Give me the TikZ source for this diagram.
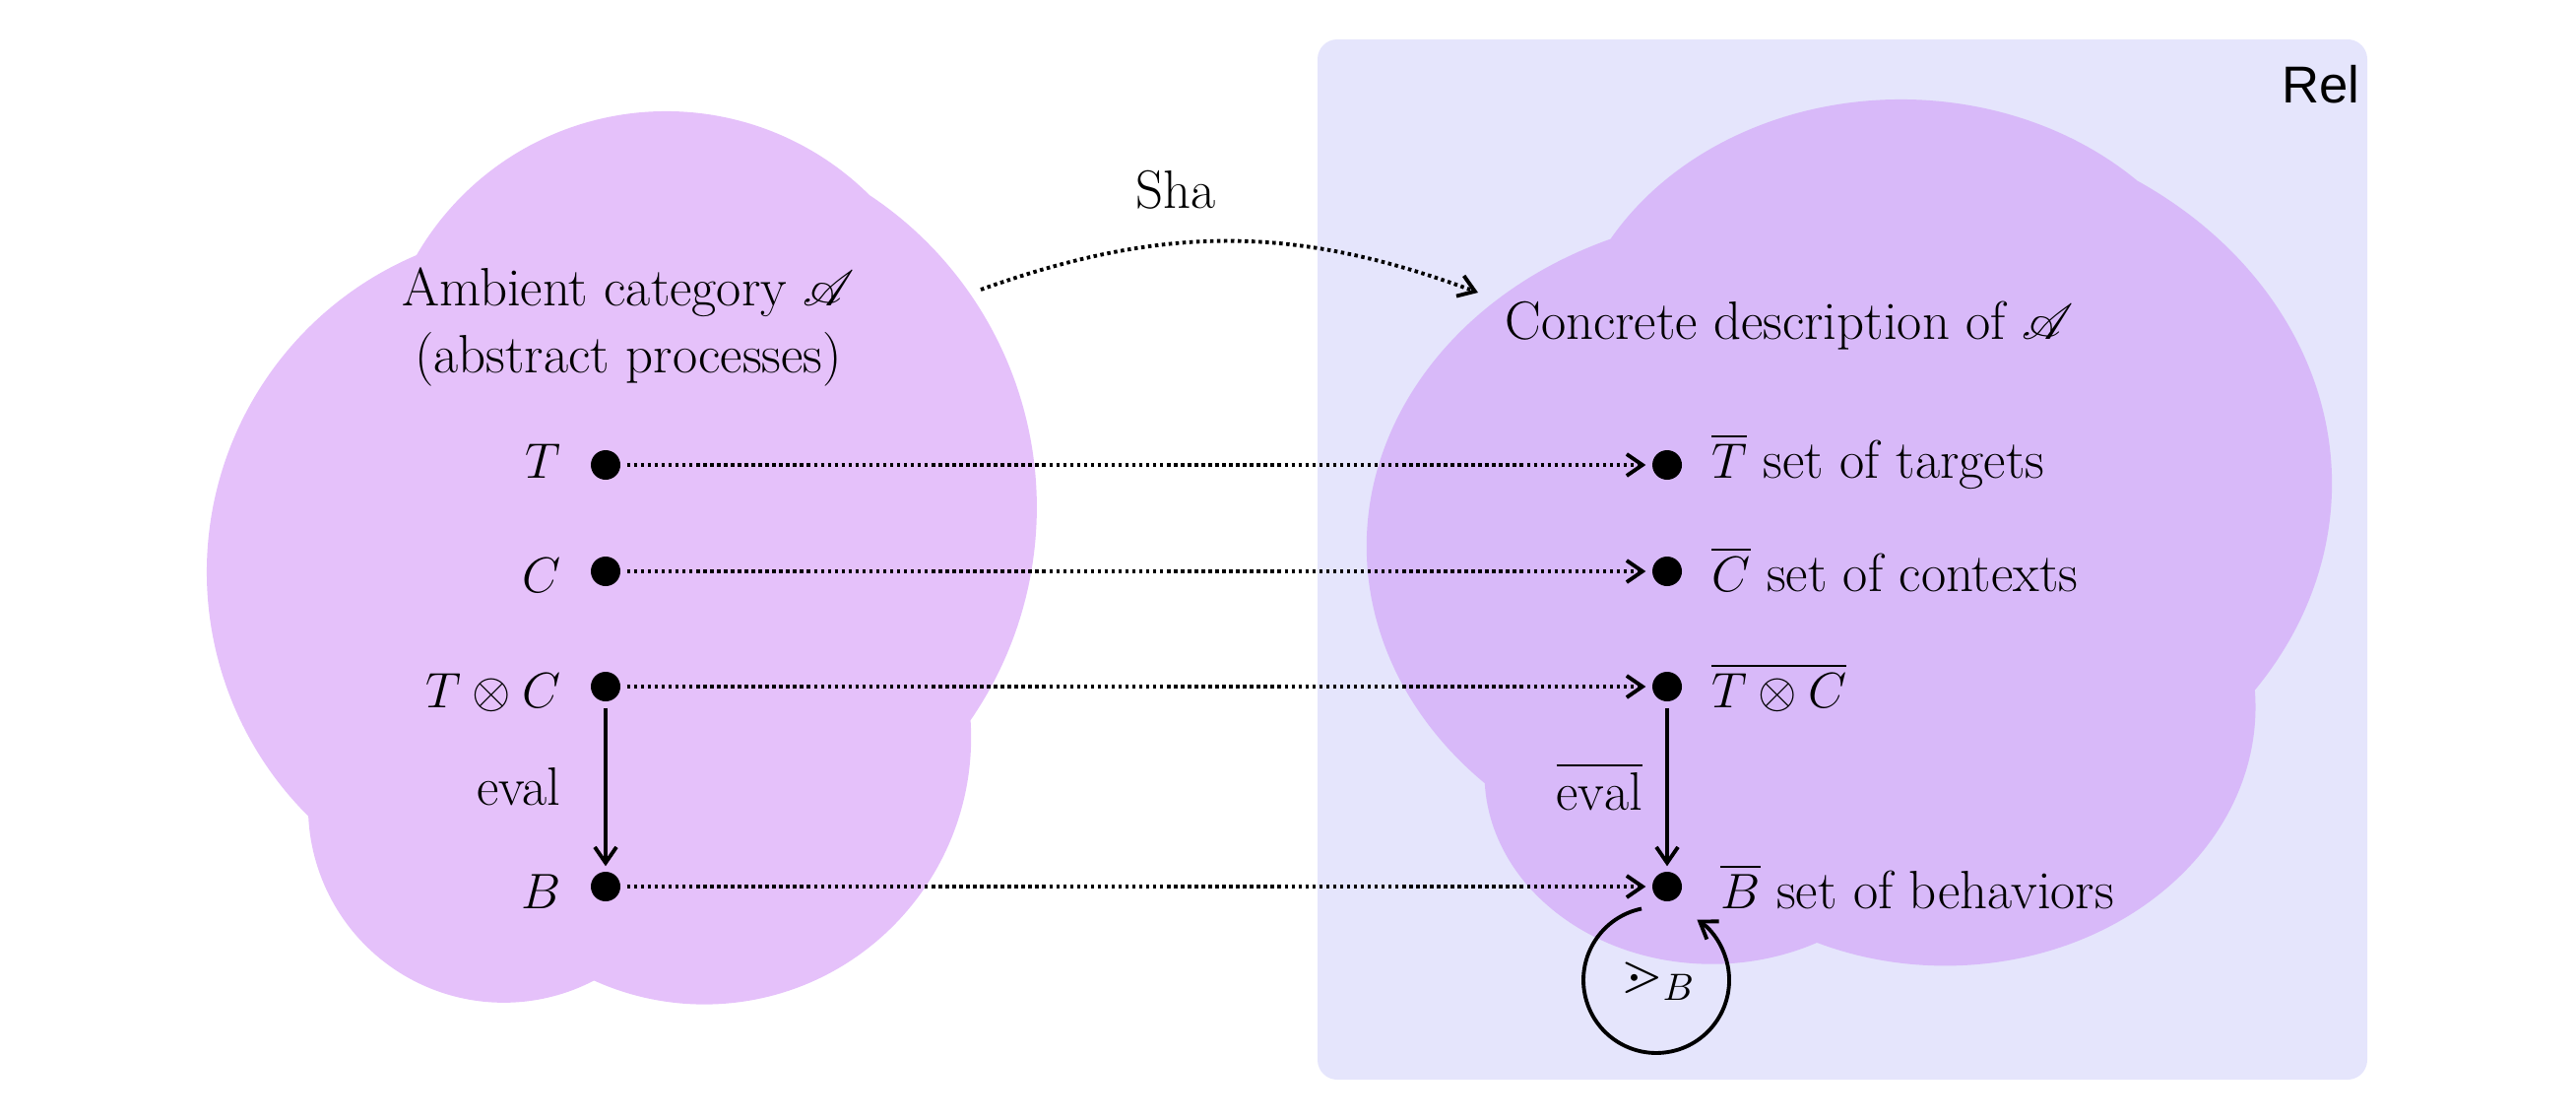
\documentclass[tikz,border=0pt]{standalone}
\usepackage{amsmath,amssymb,mathrsfs}
\usepackage{fontspec}
\newfontfamily\relfont{Liberation Sans}
\usetikzlibrary{positioning,arrows.meta}

\definecolor{ambient}{RGB}{229,193,250}
\definecolor{concrete}{RGB}{216,185,249}
\definecolor{relbg}{RGB}{229,229,252}

% cloud outline, five puffs
\newcommand{\cloudshape}{(4.23,8.77) arc[start angle=149.9,end angle=45.2,radius=2.93]
  arc[start angle=56.4,end angle=-34.6,radius=3.806]
  arc[start angle=3.7,end angle=-114.4,radius=2.71]
  arc[start angle=-62.5,end angle=-177.3,radius=1.986]
  arc[start angle=225.2,end angle=113.2,radius=3.494] -- cycle}

\begin{document}
\begin{tikzpicture}[font=\fontsize{15.6}{19.5}\selectfont,
  dot/.style={circle,fill,inner sep=0pt,minimum size=0.3cm},
  lbl/.style={inner sep=0pt},
  dotarrow/.style={line width=1.1pt,dash pattern=on 1pt off 1pt,-{Straight Barb[length=1.6mm,width=2.2mm]},shorten <=0.06cm,shorten >=0.06cm},
  solidarrow/.style={line width=1.1pt,-{Straight Barb[length=1.6mm,width=2.2mm]},shorten <=0.06cm,shorten >=0.05cm}]

\useasboundingbox (0,0) rectangle (26.16,11.36);

%clouds and Rel
\fill[ambient] \cloudshape;
\fill[relbg,rounded corners=0.2cm] (13.38,0.40) rectangle (24.04,10.96);
\begin{scope}[shift={(11.436,0.427)},xscale=1.163,yscale=0.97]
\fill[concrete] \cloudshape;
\end{scope}

\node[font=\relfont\fontsize{15}{18}\selectfont] (rel) at (23.57,10.50) {Rel};
\node[align=center] (ambient) at (6.38,8.04) {Ambient category $\mathscr{A}$\\(abstract processes)};
\node (concr) at (18.17,8.05) {Concrete description of $\mathscr{A}$};

%abstract side
\node[dot] (T) at (6.15,6.64) {};
\node[dot] (C) at (6.15,5.56) {};
\node[dot] (TC) at (6.15,4.39) {};
\node[dot] (B) at (6.15,2.36) {};
\node[lbl,left=0.29cm of T,anchor=base east,yshift=-0.13cm] (Tl) {$T$};
\node[lbl,left=0.29cm of C,anchor=base east,yshift=-0.21cm] (Cl) {$C$};
\node[lbl,left=0.29cm of TC,anchor=base east,yshift=-0.21cm] (TCl) {$T\otimes C$};
\node[lbl,left=0.29cm of B,anchor=base east,yshift=-0.22cm] (Bl) {$B$};

%concrete side
\node[dot] (Tb) at (16.93,6.64) {};
\node[dot] (Cb) at (16.93,5.56) {};
\node[dot] (TCb) at (16.93,4.39) {};
\node[dot] (Bb) at (16.93,2.36) {};
\node[lbl,right=0.29cm of Tb,anchor=base west,yshift=-0.13cm] (Tbl) {$\overline{T}$ set of targets};
\node[lbl,right=0.29cm of Cb,anchor=base west,yshift=-0.2cm] (Cbl) {$\overline{C}$ set of contexts};
\node[lbl,right=0.29cm of TCb,anchor=base west,yshift=-0.21cm] (TCbl) {$\overline{T\otimes C}$};
\node[lbl,right=0.38cm of Bb,anchor=base west,yshift=-0.22cm] (Bbl) {$\overline{B}$ set of behaviors};

\path (T) edge[dotarrow] (Tb);
\path (C) edge[dotarrow] (Cb);
\path (TC) edge[dotarrow] (TCb);
\path (B) edge[dotarrow] (Bb);

\path (TC) edge[solidarrow] node[left=0.32cm] (ev) {eval} (B);
\path (TCb) edge[solidarrow] node[left=0.11cm] (evb) {$\overline{\mathrm{eval}}$} (Bb);

%preorder loop
\coordinate (loopS) at (16.67,2.135);
\draw[solidarrow,shorten <=0pt,shorten >=0pt] (loopS) arc[start angle=101.7,end angle=416,radius=0.74];
\node (pre) at (16.84,1.40) {$\gtrdot_B$};

%Sha
\coordinate (shaS) at (9.96,8.42);
\coordinate (shaE) at (15.01,8.39);
\path (shaS) edge[dotarrow,bend left=20,shorten <=0pt,shorten >=0pt] (shaE);
\node (sha) at (11.94,9.43) {Sha};
\end{tikzpicture}
\end{document}
